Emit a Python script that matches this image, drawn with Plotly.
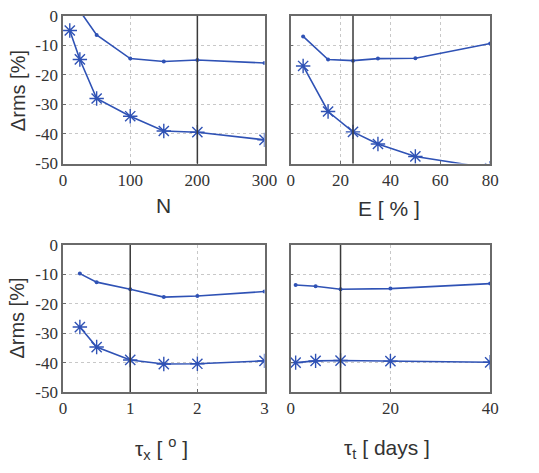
import plotly.graph_objects as go

# ---- data ----
N_x = [25, 50, 100, 150, 200, 300]
N_dot = [1.6, -6.5, -14.5, -15.5, -15.0, -16.0]
N_star_x = [10, 25, 50, 100, 150, 200, 300]
N_star = [-5.0, -14.8, -28.0, -34.0, -39.0, -39.4, -42.0]

E_x = [5, 15, 25, 35, 50, 80]
E_dot = [-7.0, -14.8, -15.2, -14.5, -14.4, -9.4]
E_star = [-17.0, -32.4, -39.3, -43.4, -47.6, -51.6]

TX_x = [0.25, 0.5, 1, 1.5, 2, 3]
TX_dot = [-9.7, -12.6, -15.0, -17.7, -17.3, -15.8]
TX_star = [-27.9, -34.7, -39.1, -40.5, -40.4, -39.4]

TT_x = [1, 5, 10, 20, 40]
TT_dot = [-13.6, -14.0, -15.0, -14.8, -13.1]
TT_star = [-40.0, -39.4, -39.3, -39.5, -39.9]

y_ticks = [0, -10, -20, -30, -40, -50]
y_tick_text = ["0", "-10", "-20", "-30", "-40", "-50"]

N_ticks = [0, 100, 200, 300]
E_ticks = [0, 20, 40, 60, 80]
TX_ticks = [0, 1, 2, 3]
TT_ticks = [0, 20, 40]

W, H = 539, 473
BLUE = "#2f52b5"
FRAME = "#6a6a6a"

def px_x(a, b):
    return [a / W, b / W]

def px_y(top, bot):
    return [1 - bot / H, 1 - top / H]

panels = [
    dict(n=1, xd=px_x(61, 269), yd=px_y(7, 161), xr=[0, 300], xt=N_ticks,
         dx=N_x, dy=N_dot, sx=N_star_x, sy=N_star, vline=200, ylab=True),
    dict(n=2, xd=px_x(296, 502), yd=px_y(7, 161), xr=[0, 80], xt=E_ticks,
         dx=E_x, dy=E_dot, sx=E_x, sy=E_star, vline=25, ylab=False),
    dict(n=3, xd=px_x(61, 269), yd=px_y(246, 399), xr=[0, 3], xt=TX_ticks,
         dx=TX_x, dy=TX_dot, sx=TX_x, sy=TX_star, vline=1, ylab=True),
    dict(n=4, xd=px_x(296, 502), yd=px_y(246, 399), xr=[0, 40], xt=TT_ticks,
         dx=TT_x, dy=TT_dot, sx=TT_x, sy=TT_star, vline=10, ylab=False),
]

fig = go.Figure()
layout = dict(
    width=W, height=H, margin=dict(l=0, r=0, t=0, b=0),
    paper_bgcolor="white", plot_bgcolor="white", showlegend=False,
    shapes=[], annotations=[],
)

SERIF = "Liberation Serif"

for p in panels:
    n = p["n"]
    xa = "x" if n == 1 else f"x{n}"
    ya = "y" if n == 1 else f"y{n}"
    fig.add_trace(go.Scatter(
        x=p["dx"], y=p["dy"], xaxis=xa, yaxis=ya, mode="lines+markers",
        line=dict(color=BLUE, width=1.6),
        marker=dict(symbol="circle", size=4, color=BLUE),
    ))
    fig.add_trace(go.Scatter(
        x=p["sx"], y=p["sy"], xaxis=xa, yaxis=ya, mode="lines+markers",
        line=dict(color=BLUE, width=1.6),
        marker=dict(symbol="asterisk-open", size=12, color=BLUE,
                    line=dict(color=BLUE, width=1.4)),
    ))
    key = "" if n == 1 else str(n)
    layout[f"xaxis{key}"] = dict(
        domain=p["xd"], range=p["xr"], anchor=ya, tickvals=p["xt"],
        showgrid=True, gridcolor="#c8c8c8", griddash="dot", gridwidth=1,
        zeroline=False, showline=True, linecolor=FRAME, linewidth=1.5, mirror=True,
        ticks="inside", ticklen=3, tickcolor=FRAME,
    )
    layout[f"yaxis{key}"] = dict(
        domain=p["yd"], range=[-50, 0], anchor=xa, tickvals=y_ticks,
        ticktext=y_tick_text, showticklabels=p["ylab"],
        showgrid=True, gridcolor="#c8c8c8", griddash="dot", gridwidth=1,
        zeroline=False, showline=True, linecolor=FRAME, linewidth=1.5, mirror=True,
        ticks="inside", ticklen=3, tickcolor=FRAME,
    )
    layout["shapes"].append(dict(
        type="line", xref=xa, yref=f"{ya} domain", x0=p["vline"], x1=p["vline"],
        y0=0, y1=1, line=dict(color="#3a3a3a", width=1.5),
    ))

title_font = dict(family="Liberation Sans", size=21, color="#333333")
ylab_font = dict(family="Liberation Sans", size=20, color="#333333")

def ann(text, xpx, ypx, font, angle=0):
    layout["annotations"].append(dict(
        text=text, x=xpx / W, y=1 - ypx / H, xref="paper", yref="paper",
        showarrow=False, font=font, textangle=angle, xanchor="center", yanchor="middle",
    ))

ann("N", 165, 205, title_font)
ann("E [ % ]", 398, 208, title_font)
ann("τ<sub>x</sub> [ <sup>o</sup> ]", 163, 458, title_font)
ann("τ<sub>t</sub> [ days ]", 395, 458, title_font)
ann("Δrms [%]", 14, 85, ylab_font, -90)
ann("Δrms [%]", 14, 322, ylab_font, -90)

fig.update_layout(**layout)
fig.update_layout(font=dict(family=SERIF, size=17, color="#333333"))
fig.update_xaxes(tickfont=dict(family=SERIF, size=17, color="#333333"))
fig.update_yaxes(tickfont=dict(family=SERIF, size=17, color="#333333"))
fig.write_html("out.html")
